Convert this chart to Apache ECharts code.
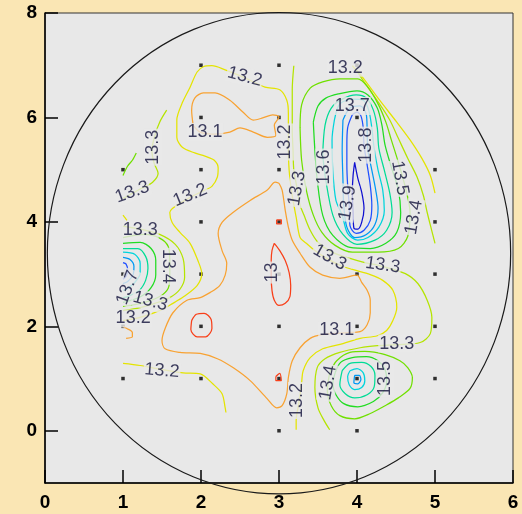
<!DOCTYPE html>
<html>
<head>
<meta charset="utf-8">
<script src="https://cdn.jsdelivr.net/npm/echarts@6/dist/echarts.min.js"></script>
<style>
  html, body { margin: 0; padding: 0; background: #FAE6B4; }
  #chart { width: 522px; height: 514px; }
</style>
</head>
<body>
<div id="chart"></div>
<script>
// ---- Survey stations ----
const stations = [
  [1,1],[1,2],[1,3],[1,5],
  [2,1],[2,2],[2,3],[2,4],[2,5],[2,6],[2,7],
  [3,0],[3,1],[3,2],[3,3],[3,4],[3,5],[3,6],[3,7],
  [4,0],[4,1],[4,2],[4,3],[4,6],[4,7],
  [5,1],[5,2],[5,3],[5,4],[5,5]
];

// Survey boundary: centre x, centre y, x radius, y radius
const boundary = [3.0, 3.40, 2.97, 4.61];

// Axis ticks
const xTicks = [0, 1, 2, 3, 4, 5, 6];
const yTicks = [0, 2, 4, 6, 8];

// ---- Contour lines (x, y) per level ----
// 13.0
const c130a = [[1.88,2.11],[1.94,2.23],[2.04,2.25],[2.13,2.13],[2.14,1.96],[2.06,1.80],[1.95,1.80],[1.87,1.94],[1.88,2.11]];
const c130b = [[2.94,3.59],[3.01,3.45],[3.08,3.26],[3.13,3.03],[3.15,2.78],[3.14,2.57],[3.08,2.44],[3.00,2.40],[2.94,2.50],[2.91,2.69],[2.90,2.98],[2.90,3.26],[2.91,3.45],[2.94,3.59]];
const c130c = [[2.96,1.04],[3.01,1.10],[3.03,0.96],[2.96,0.96],[2.96,1.04]];
const c130d = [[2.97,4.04],[3.03,4.04],[3.03,3.96],[2.97,3.96],[2.97,4.04]];
// 13.1
const c131a = [[1.90,5.85],[1.88,6.14],[1.92,6.37],[2.03,6.47],[2.18,6.47],[2.37,6.33],[2.54,6.10],[2.67,5.95],[2.79,5.99],[2.92,6.05],[3.00,6.01],[2.94,5.85],[2.96,5.66],[2.85,5.62],[2.67,5.72],[2.50,5.80],[2.37,5.72],[2.18,5.68],[1.99,5.72],[1.90,5.85]];
const c131b = [[3.00,4.74],[3.04,4.61],[3.08,4.22],[3.12,3.90],[3.17,3.65],[3.27,3.40],[3.40,3.13],[3.56,2.98],[3.78,2.92],[4.00,2.98],[4.06,2.84],[4.13,2.69],[4.17,2.50],[4.17,2.26],[4.13,2.03],[4.04,1.90],[3.88,1.88],[3.55,1.84],[3.40,1.77],[3.27,1.59],[3.17,1.34],[3.12,1.02],[3.10,0.71],[3.04,0.48],[2.97,0.44],[2.85,0.61],[2.63,0.96],[2.41,1.21],[2.21,1.38],[1.99,1.48],[1.73,1.50],[1.54,1.57],[1.50,1.73],[1.54,1.96],[1.64,2.26],[1.82,2.50],[1.99,2.55],[2.12,2.65],[2.24,2.78],[2.31,2.98],[2.33,3.21],[2.27,3.45],[2.22,3.78],[2.27,3.99],[2.41,4.18],[2.63,4.41],[2.85,4.61],[2.95,4.76],[3.00,4.74]];
const c131c = [[1.00,2.00],[1.05,1.96],[1.12,1.88],[1.12,1.80],[1.04,1.77]];
// 13.2
const c132a = [[1.00,2.11],[1.22,2.17],[1.47,2.30],[1.64,2.44],[1.78,2.57],[1.95,2.78],[2.01,3.01],[1.96,3.26],[1.86,3.59],[1.73,3.80],[1.63,3.99],[1.60,4.18],[1.79,4.41],[2.05,4.61],[2.14,4.68],[2.21,4.86],[2.22,5.03],[2.17,5.18],[2.05,5.26],[1.92,5.32],[1.76,5.43],[1.69,5.62],[1.69,5.95],[1.76,6.28],[1.86,6.58],[1.95,6.87],[2.03,6.97],[2.14,6.99],[2.31,6.91],[2.56,6.76],[2.82,6.58],[3.01,6.53],[3.10,6.33],[3.12,6.08],[3.12,5.76],[3.12,5.37],[3.13,4.99],[3.15,4.70],[3.18,4.41],[3.22,4.09],[3.27,3.70],[3.35,3.59],[3.46,3.45],[3.59,3.32],[3.78,3.17],[3.94,3.09],[4.17,2.99],[4.33,2.88],[4.46,2.69],[4.51,2.36],[4.46,2.11],[4.38,1.92],[4.26,1.82],[4.04,1.77],[3.82,1.67],[3.56,1.57],[3.40,1.40],[3.31,1.15],[3.29,0.92],[3.26,0.58],[3.22,0.19],[3.22,0.02]];
const c132b = [[3.94,6.99],[4.06,6.79],[4.29,6.33],[4.51,5.91],[4.68,5.57],[4.83,5.22],[4.94,4.89],[5.00,4.55]];
const c132c = [[1.00,1.29],[1.22,1.25],[1.50,1.17],[1.77,1.11],[1.99,1.09],[2.15,0.90],[2.27,0.71],[2.31,0.44],[2.32,0.35]];
const c132d = [[1.00,4.13],[1.03,4.07],[1.05,4.03]];
// 13.3
const c133a = [[3.19,6.99],[3.17,6.53],[3.17,6.08],[3.17,5.76],[3.18,5.37],[3.19,4.99],[3.23,4.66],[3.27,4.32],[3.32,4.13],[3.40,3.84],[3.50,3.61],[3.68,3.42],[3.91,3.30],[4.10,3.22],[4.32,3.15],[4.62,3.01],[4.78,2.82],[4.90,2.50],[4.96,2.17],[4.94,1.86],[4.81,1.69],[4.51,1.65],[4.26,1.63],[4.04,1.59],[3.78,1.50],[3.59,1.38],[3.49,1.21],[3.46,0.83],[3.50,0.44],[3.58,0.19],[3.65,0.02]];
const c133b = [[3.99,6.91],[4.09,6.68],[4.27,6.30],[4.42,5.95],[4.53,5.60],[4.65,5.22],[4.77,4.86],[4.85,4.51],[4.90,4.18],[4.95,3.88],[5.00,3.59]];
const c133c = [[1.00,3.92],[1.22,3.86],[1.47,3.76],[1.67,3.57],[1.77,3.30],[1.79,2.94],[1.73,2.71],[1.60,2.55],[1.41,2.44],[1.22,2.36],[1.00,2.30]];
const c133d = [[1.56,6.14],[1.47,5.91],[1.41,5.66],[1.37,5.37],[1.40,5.12],[1.45,4.93],[1.38,4.76],[1.22,4.63],[1.03,4.47],[1.00,4.45]];
// 13.4
const c134a = [[3.27,5.80],[3.29,6.24],[3.40,6.56],[3.56,6.68],[3.78,6.74],[4.01,6.74],[4.13,6.60],[4.27,6.26],[4.37,5.91],[4.44,5.57],[4.53,5.14],[4.62,4.66],[4.68,4.18],[4.65,3.72],[4.53,3.49],[4.27,3.42],[3.94,3.42],[3.72,3.55],[3.55,3.80],[3.44,4.13],[3.35,4.61],[3.29,5.18],[3.27,5.80]];
const c134b = [[3.65,1.11],[3.74,1.34],[3.91,1.50],[4.10,1.52],[4.36,1.46],[4.55,1.34],[4.65,1.21],[4.71,1.02],[4.68,0.81],[4.53,0.63],[4.36,0.48],[4.17,0.33],[3.97,0.23],[3.78,0.29],[3.67,0.48],[3.62,0.77],[3.65,1.11]];
const c134c = [[1.00,3.70],[1.28,3.76],[1.47,3.69],[1.58,3.53],[1.60,3.26],[1.60,2.98],[1.58,2.73],[1.47,2.57],[1.28,2.46],[1.00,2.38]];
const c134d = [[1.00,4.89],[1.06,5.07],[1.12,5.18],[1.17,5.32]];
// 13.5
const c135a = [[3.44,5.91],[3.50,6.22],[3.60,6.37],[3.76,6.45],[4.00,6.51],[4.14,6.43],[4.26,6.18],[4.32,5.85],[4.36,5.47],[4.44,5.05],[4.53,4.61],[4.56,4.18],[4.51,3.80],[4.37,3.59],[4.17,3.49],[3.91,3.51],[3.69,3.74],[3.56,4.13],[3.49,4.80],[3.46,5.37],[3.44,5.91]];
const c135b = [[3.72,1.11],[3.79,1.31],[3.94,1.40],[4.12,1.42],[4.27,1.34],[4.36,1.17],[4.38,0.96],[4.33,0.73],[4.21,0.56],[4.01,0.46],[3.83,0.52],[3.73,0.69],[3.69,0.90],[3.72,1.11]];
const c135c = [[1.00,3.59],[1.22,3.61],[1.36,3.49],[1.42,3.26],[1.42,2.99],[1.36,2.74],[1.23,2.57],[1.06,2.48],[1.00,2.46]];
// 13.6
const c136a = [[3.56,5.28],[3.59,5.85],[3.67,6.18],[3.81,6.35],[3.99,6.43],[4.12,6.37],[4.21,6.14],[4.26,5.80],[4.28,5.41],[4.35,4.99],[4.42,4.55],[4.45,4.18],[4.38,3.84],[4.23,3.65],[4.00,3.57],[3.82,3.76],[3.69,4.13],[3.60,4.80],[3.56,5.28]];
const c136b = [[3.81,1.15],[3.91,1.29],[4.06,1.31],[4.18,1.23],[4.23,1.06],[4.22,0.84],[4.13,0.69],[3.97,0.63],[3.85,0.71],[3.78,0.88],[3.81,1.15]];
const c136c = [[1.00,3.49],[1.19,3.49],[1.29,3.34],[1.32,3.11],[1.29,2.88],[1.21,2.69],[1.06,2.57],[1.00,2.55]];
// 13.7
const c137a = [[3.71,5.95],[3.78,6.26],[3.94,6.35],[4.08,6.33],[4.15,6.14],[4.19,5.80],[4.22,5.41],[4.27,4.99],[4.33,4.61],[4.35,4.22],[4.28,3.90],[4.14,3.70],[4.01,3.65],[3.88,3.78],[3.81,4.13],[3.73,4.41],[3.69,4.99],[3.68,5.57],[3.71,5.95]];
const c137b = [[3.91,1.15],[4.00,1.19],[4.08,1.11],[4.10,0.96],[4.06,0.83],[3.97,0.79],[3.90,0.88],[3.88,1.04],[3.91,1.15]];
const c137c = [[1.00,3.42],[1.15,3.38],[1.22,3.21],[1.22,3.01],[1.15,2.84],[1.04,2.71],[1.00,2.69]];
// 13.8
const c138a = [[3.82,5.95],[3.91,6.18],[4.04,6.22],[4.12,6.05],[4.13,5.76],[4.14,5.37],[4.19,4.99],[4.24,4.61],[4.27,4.26],[4.23,3.95],[4.12,3.76],[3.97,3.70],[3.87,3.90],[3.83,4.32],[3.82,4.80],[3.81,5.37],[3.82,5.95]];
const c138b = [[3.97,1.06],[4.03,1.06],[4.05,0.98],[4.01,0.90],[3.96,0.92],[3.97,1.06]];
const c138c = [[1.00,3.32],[1.09,3.28],[1.14,3.15],[1.13,2.99],[1.06,2.86],[1.00,2.82]];
// 13.9
const c139a = [[3.94,6.05],[4.00,6.10],[4.05,6.03],[4.08,5.80],[4.09,5.47],[4.13,5.09],[4.17,4.70],[4.19,4.32],[4.17,4.03],[4.09,3.84],[3.99,3.78],[3.91,3.93],[3.90,4.32],[3.88,4.70],[3.87,5.09],[3.87,5.47],[3.88,5.80],[3.94,6.05]];
const c139c = [[1.00,3.22],[1.04,3.19],[1.06,3.07],[1.04,2.96],[1.00,2.90]];
// 14.0
const c140a = [[3.97,5.14],[4.01,4.84],[4.06,4.57],[4.09,4.26],[4.06,3.99],[4.01,3.86],[3.96,3.88],[3.95,4.18],[3.94,4.57],[3.95,4.89],[3.97,5.14]];

// ---- Contour labels: x, y, text ----
const labelSpots = [
  [3.85,6.95,'13.2'],[2.56,6.78,'13.2'],[2.05,5.72,'13.1'],[1.38,5.43,'13.3'],
  [1.12,4.57,'13.3'],[1.86,4.51,'13.2'],[3.08,5.53,'13.2'],[3.23,4.64,'13.3'],
  [3.58,5.05,'13.6'],[3.94,6.22,'13.7'],[4.12,5.47,'13.8'],[3.88,4.36,'13.9'],
  [4.55,4.84,'13.5'],[4.73,4.09,'13.4'],[3.65,3.32,'13.3'],[4.33,3.17,'13.3'],
  [2.91,3.03,'13'],[1.22,3.84,'13.3'],[1.58,3.15,'13.4'],[1.06,2.74,'13.7'],
  [1.35,2.48,'13.3'],[1.13,2.15,'13.2'],[1.50,1.15,'13.2'],[3.74,1.92,'13.1'],
  [3.23,0.58,'13.2'],[3.63,0.92,'13.4'],[4.36,1.00,'13.5'],[4.51,1.67,'13.3']
];
const labelAngles = [0,-15,0,90, 20,22,90,80, 90,0,90,80, -80,80,-30,-8, 90,0,-90,70, -15,0,-5,0, 90,80,90,0];

const levelColors = {
  '13.0': '#F8401A', '13.1': '#F8A232', '13.2': '#E4E400', '13.3': '#B4E400',
  '13.4': '#70E000', '13.5': '#22DC22', '13.6': '#00DC96', '13.7': '#00D4DC',
  '13.8': '#0098F4', '13.9': '#2050FF', '14.0': '#1010D0'
};

const contourPieces = [
  ['13.0', c130a], ['13.0', c130b], ['13.0', c130c], ['13.0', c130d],
  ['13.1', c131a], ['13.1', c131b], ['13.1', c131c],
  ['13.2', c132a], ['13.2', c132b], ['13.2', c132c], ['13.2', c132d],
  ['13.3', c133a], ['13.3', c133b], ['13.3', c133c], ['13.3', c133d],
  ['13.4', c134a], ['13.4', c134b], ['13.4', c134c], ['13.4', c134d],
  ['13.5', c135a], ['13.5', c135b], ['13.5', c135c],
  ['13.6', c136a], ['13.6', c136b], ['13.6', c136c],
  ['13.7', c137a], ['13.7', c137b], ['13.7', c137c],
  ['13.8', c138a], ['13.8', c138b], ['13.8', c138c],
  ['13.9', c139a], ['13.9', c139c],
  ['14.0', c140a]
];

const chart = echarts.init(document.getElementById('chart'), null, { renderer: 'canvas' });

const series = [];

// station markers
series.push({
  type: 'scatter',
  data: stations,
  symbol: 'rect',
  symbolSize: 3.5,
  itemStyle: { color: '#000' },
  silent: true,
  z: 2
});

// contour lines
contourPieces.forEach(([lev, pts]) => {
  series.push({
    type: 'line',
    data: pts,
    showSymbol: false,
    smooth: 0.3,
    silent: true,
    lineStyle: { color: levelColors[lev], width: 1.25 },
    z: 3
  });
});

// survey boundary ellipse
series.push({
  type: 'custom',
  clip: false,
  silent: true,
  z: 4,
  data: [boundary],
  renderItem: function (params, api) {
    const c = api.coord([api.value(0), api.value(1)]);
    const s = api.size([api.value(2), api.value(3)]);
    return {
      type: 'path',
      shape: {
        pathData: 'M0,1 A1,1 0 1,0 2,1 A1,1 0 1,0 0,1 Z',
        x: c[0] - s[0], y: c[1] - s[1], width: 2 * s[0], height: 2 * s[1],
        layout: 'cover'
      },
      style: { fill: 'none', stroke: '#1a1a1a', lineWidth: 1.2 }
    };
  }
});

// contour labels
series.push({
  type: 'scatter',
  symbolSize: 0,
  silent: true,
  z: 10,
  data: labelSpots.map((d, i) => ({
    value: d,
    label: { rotate: labelAngles[i] }
  })),
  label: {
    show: true,
    position: 'inside',
    formatter: p => p.value[2],
    fontFamily: 'Liberation Sans, Arial, sans-serif',
    fontSize: 18,
    color: '#10103a',
    backgroundColor: '#E8E8E8',
    padding: [0, 1]
  }
});

chart.setOption({
  animation: false,
  backgroundColor: '#FAE6B4',
  grid: {
    left: 45, right: 9, top: 13, bottom: 31,
    show: true, backgroundColor: '#E8E8E8', borderColor: '#333', borderWidth: 1
  },
  xAxis: {
    type: 'value', min: 0, max: 6, interval: 1,
    axisLine: { show: true, onZero: false, lineStyle: { color: '#000', width: 1.5 } },
    axisTick: { show: true, inside: true, length: 13, lineStyle: { color: '#000', width: 1.5 } },
    axisLabel: {
      margin: 10, fontSize: 19, fontWeight: 'bold', color: '#000',
      fontFamily: 'Liberation Sans, Arial, sans-serif',
      customValues: xTicks
    },
    splitLine: { show: false }
  },
  yAxis: {
    type: 'value', min: -1, max: 8,
    axisLine: { show: true, onZero: false, lineStyle: { color: '#000', width: 1.5 } },
    axisTick: { show: true, inside: true, length: 13, customValues: yTicks, lineStyle: { color: '#000', width: 1.5 } },
    axisLabel: {
      margin: 8, fontSize: 19, fontWeight: 'bold', color: '#000',
      fontFamily: 'Liberation Sans, Arial, sans-serif',
      customValues: yTicks
    },
    splitLine: { show: false }
  },
  series: series
});
</script>
</body>
</html>
